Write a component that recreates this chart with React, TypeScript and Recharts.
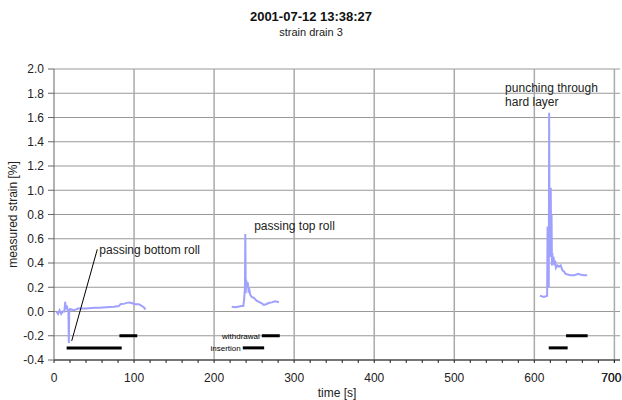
import React from 'react';
import {
  LineChart, Line, XAxis, YAxis, CartesianGrid, ReferenceLine, ReferenceDot, Label,
} from 'recharts';

// strain readings per pass, [time s, strain %]
const bottomRollRun: [number, number][] = [
  [3, 0.0], [5, -0.02], [7, 0.01], [9, -0.02], [11, 0.0], [13, 0.0], [14, 0.08], [14.5, 0.02],
  [16, 0.05], [17, 0.01], [18, 0.01], [18.5, -0.26], [19, 0.0], [20, 0.02], [25, 0.01],
  [30, 0.025], [40, 0.025], [50, 0.03], [57, 0.03], [65, 0.035], [75, 0.04], [81, 0.045],
  [83, 0.06], [88, 0.065], [93, 0.075], [97, 0.07], [101, 0.06], [106, 0.06], [110, 0.045],
  [113, 0.03], [114, 0.015],
];
const topRollRun: [number, number][] = [
  [222, 0.04], [226, 0.035], [230, 0.04], [234, 0.045], [236.5, 0.045], [237.5, 0.1],
  [238.5, 0.2], [239, 0.64], [239.5, 0.15], [240, 0.26], [241, 0.22], [242, 0.24], [243, 0.17],
  [244, 0.18], [245, 0.14], [247, 0.12], [250, 0.11], [253, 0.09], [256, 0.08], [259, 0.07],
  [262, 0.055], [265, 0.06], [268, 0.07], [272, 0.075], [276, 0.085], [279, 0.08], [281, 0.075],
];
const hardLayerRun: [number, number][] = [
  [607, 0.13], [612, 0.12], [616, 0.13], [616.5, 0.7], [617, 0.3], [617.5, 0.55], [618, 0.2],
  [618.5, 1.64], [619, 0.6], [619.5, 0.7], [620, 0.45], [620.5, 1.02], [621, 0.5], [621.5, 0.8],
  [622, 0.38], [622.5, 0.48], [623, 0.4], [624, 0.45], [625, 0.38], [626, 0.42], [627, 0.36],
  [629, 0.38], [631, 0.37], [633, 0.38], [635, 0.34], [637, 0.33], [639, 0.31], [645, 0.3],
  [650, 0.3], [655, 0.31], [657, 0.305], [662, 0.3], [666, 0.3],
];

// phase intervals [start, end] in s
const insertion: [number, number][] = [[15.8, 84.6], [235.8, 262.5], [618, 641.6]];
const withdrawal: [number, number][] = [[81.7, 104], [259.6, 282], [639.6, 666.6]];
const insertionLevel = -0.3;
const withdrawalLevel = -0.2;

const leader: [number, number][] = [[22.1, -0.243], [54.1, 0.513]];

const annotations: { t: number; v: number; text: string }[] = [
  { t: 54.1, v: 0.513, text: 'passing bottom roll' },
  { t: 247.5, v: 0.705, text: 'passing top roll' },
  { t: 561, v: 1.843, text: 'punching through' },
  { t: 561, v: 1.728, text: 'hard layer' },
];

const yTicks = [-0.4, -0.2, 0, 0.2, 0.4, 0.6, 0.8, 1.0, 1.2, 1.4, 1.6, 1.8, 2.0];
const xMinorTicks = Array.from({ length: 36 }, (_, i) => i * 20);
const xMajorTicks = [100, 200, 300, 400, 500, 600, 700];

const toPoints = (run: [number, number][]) => run.map(([t, v]) => ({ t, v }));

const font = 'Liberation Sans, Arial, sans-serif';
const stroke = '#a0a0ff';

const XTick = (props: any) => {
  const { x, y, payload } = props;
  if (payload.value % 100 !== 0) return <g />;
  const last = payload.value === 700;
  return (
    <text x={last ? x + 7 : x} y={y} dy="0.71em" textAnchor={last ? 'end' : 'middle'} fontSize={12} fill="#222" fontFamily={font}>
      {payload.value}
    </text>
  );
};

const App: React.FC = () => {
  return (
    <div style={{ position: 'absolute', left: 0, top: 0, width: 622, height: 400, background: '#fff', fontFamily: font }}>
      <div style={{ position: 'absolute', top: 9, width: 622, textAlign: 'center', fontSize: 13, fontWeight: 700, color: '#111' }}>
        2001-07-12 13:38:27
      </div>
      <div style={{ position: 'absolute', top: 26, width: 622, textAlign: 'center', fontSize: 11, color: '#222' }}>
        strain drain 3
      </div>
      <LineChart width={622} height={400} margin={{ top: 69, right: 2, bottom: 0, left: 0 }}>
        <CartesianGrid vertical={false} stroke="#999" />
        {xMajorTicks.map(t => (
          <ReferenceLine key={'g' + t} x={t} stroke="#aaa" strokeWidth={1.5} />
        ))}
        <XAxis
          type="number"
          dataKey="t"
          domain={[0, 707]}
          ticks={xMinorTicks.concat([700])}
          interval={0}
          tickSize={3}
          tickMargin={10}
          tick={<XTick />}
          stroke="#222"
          height={40}
        >
          <Label value="time [s]" position="insideBottom" offset={3} fontSize={12} fill="#222" fontFamily={font} />
        </XAxis>
        <YAxis
          type="number"
          dataKey="v"
          domain={[-0.4, 2.0]}
          ticks={yTicks}
          interval={0}
          tickFormatter={(v: number) => v.toFixed(1)}
          tickSize={6}
          tickMargin={4}
          width={54}
          stroke="#666"
          tick={{ fontSize: 12, fill: '#222', fontFamily: font }}
        >
          <Label value="measured strain [%]" angle={-90} position="insideLeft" offset={13} fontSize={12} fill="#222" fontFamily={font} style={{ textAnchor: 'middle' }} />
        </YAxis>

        {[bottomRollRun, topRollRun, hardLayerRun].map((run, i) => (
          <Line
            key={'run' + i}
            data={toPoints(run)}
            dataKey="v"
            type="linear"
            stroke={stroke}
            strokeWidth={2}
            dot={false}
            isAnimationActive={false}
          />
        ))}

        {insertion.map(([a, b], i) => (
          <ReferenceLine
            key={'ins' + i}
            segment={[{ x: a, y: insertionLevel }, { x: b, y: insertionLevel }]}
            stroke="#000"
            strokeWidth={3}
            label={i === 1 ? { value: 'insertion', position: 'left', fontSize: 8, fill: '#000', offset: 2, fontFamily: font } : undefined}
          />
        ))}
        {withdrawal.map(([a, b], i) => (
          <ReferenceLine
            key={'wd' + i}
            segment={[{ x: a, y: withdrawalLevel }, { x: b, y: withdrawalLevel }]}
            stroke="#000"
            strokeWidth={3}
            label={i === 1 ? { value: 'withdrawal', position: 'left', fontSize: 8, fill: '#000', offset: 2, fontFamily: font } : undefined}
          />
        ))}

        <ReferenceLine
          segment={leader.map(([x, y]) => ({ x, y }))}
          stroke="#000"
          strokeWidth={1}
        />
        {annotations.map(a => (
          <ReferenceDot
            key={a.text}
            x={a.t}
            y={a.v}
            r={0}
            stroke="none"
            fill="none"
            label={{ value: a.text, position: 'right', offset: 2, fontSize: 12, fill: '#222', fontFamily: font }}
          />
        ))}
      </LineChart>
    </div>
  );
};

export default App;
